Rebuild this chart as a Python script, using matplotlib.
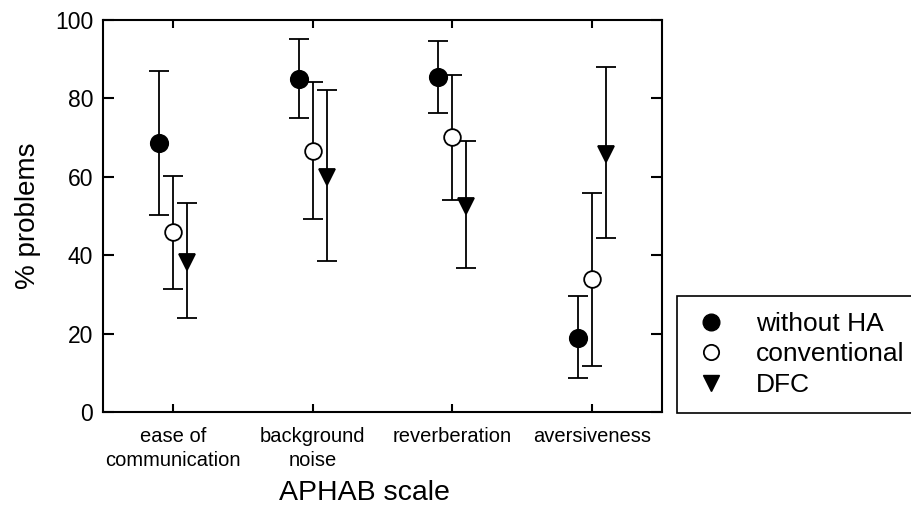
import numpy as np
import matplotlib
matplotlib.use("Agg")
import matplotlib.pyplot as plt
from matplotlib.lines import Line2D

plt.rcParams['font.family'] = ['Liberation Sans', 'DejaVu Sans']

categories = ["ease of\ncommunication", "background\nnoise", "reverberation", "aversiveness"]

# mean, upper end and lower end of error bar, % problems
without_ha = [68.5, 85.0, 85.4, 19.0]
without_ha_hi = [87.1, 95.2, 94.6, 29.7]
without_ha_lo = [50.3, 74.9, 76.2, 8.6]

conventional = [45.8, 66.6, 70.2, 33.9]
conventional_hi = [60.3, 84.3, 85.9, 55.9]
conventional_lo = [31.5, 49.2, 54.1, 11.8]

dfc = [38.3, 60.0, 52.6, 65.8]
dfc_hi = [53.2, 82.1, 69.1, 88.1]
dfc_lo = [23.9, 38.6, 36.8, 44.3]

series = [
    ("without HA", without_ha, without_ha_hi, without_ha_lo, 'o', 'black', -0.1, 12.5),
    ("conventional", conventional, conventional_hi, conventional_lo, 'o', 'white', 0.0, 12),
    ("DFC", dfc, dfc_hi, dfc_lo, 'v', 'black', 0.1, 12),
]

fig = plt.figure(figsize=(9.12, 5.19), dpi=100)
ax = fig.add_axes([0.1129, 0.2062, 0.613, 0.7553])

x = np.arange(1, len(categories) + 1)
for name, mean, hi, lo, mk, fc, off, ms in series:
    mean = np.array(mean)
    err = [mean - np.array(lo), np.array(hi) - mean]
    ax.errorbar(x + off, mean, yerr=err, fmt=mk, color='black', mfc=fc, mec='black',
                ms=ms, mew=1.3, elinewidth=1.3, capsize=7, capthick=1.3, zorder=3)

ax.set_xlim(0.5, 4.5)
ax.set_ylim(0, 100)
ax.set_xticks(x)
ax.set_xticklabels(categories, fontsize=14.5, linespacing=1.3)
ax.set_yticks(np.arange(0, 101, 20))
ax.tick_params(axis='y', direction='in', length=8, width=1.5, labelsize=16.5, pad=7,
               left=True, right=True)
ax.tick_params(axis='x', direction='in', length=6, width=1.5, pad=11,
               top=True, bottom=True)
for s in ax.spines.values():
    s.set_linewidth(1.5)

ax.set_xlabel("APHAB scale", fontsize=20.5, va='center')
ax.xaxis.set_label_coords(0.467, -0.207)
ax.set_ylabel("% problems", fontsize=20, labelpad=10)

handles = [
    Line2D([], [], ls='none', marker='o', mfc='black', mec='black', ms=12),
    Line2D([], [], ls='none', marker='o', mfc='white', mec='black', mew=1.3, ms=11),
    Line2D([], [], ls='none', marker='v', mfc='black', mec='black', ms=12),
]
leg = fig.legend(handles, ["without HA", "conventional", "DFC"], loc='upper left',
                 bbox_to_anchor=(677 / 912, 1 - 296 / 519), fontsize=19,
                 frameon=True, fancybox=False, edgecolor='black', framealpha=1,
                 handlelength=1.4, handletextpad=1.0, labelspacing=0.25,
                 borderpad=0.6, borderaxespad=0)
leg.get_frame().set_linewidth(1.2)

fig.savefig("out.png", dpi=100)
